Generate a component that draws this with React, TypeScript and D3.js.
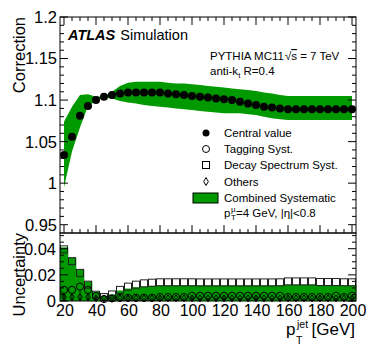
import React from "react";
import * as d3 from "d3";

// jet pT bin centres [GeV]
const ptBins = [20, 25, 30, 35, 40, 45, 50, 55, 60, 65, 70, 75, 80, 85, 90, 95, 100, 105, 110, 115,
  120, 125, 130, 135, 140, 145, 150, 155, 160, 165, 170, 175, 180, 185, 190, 195, 200];

const central = [1.034, 1.056, 1.081, 1.093, 1.100, 1.104, 1.106, 1.108, 1.109, 1.109, 1.109, 1.109,
  1.109, 1.108, 1.107, 1.106, 1.105, 1.104, 1.103, 1.102, 1.101, 1.100, 1.098, 1.096, 1.094, 1.092,
  1.091, 1.090, 1.089, 1.089, 1.089, 1.089, 1.089, 1.089, 1.089, 1.089, 1.089];

const bandUp = [1.074, 1.092, 1.106, 1.107, 1.104, 1.105, 1.110, 1.117, 1.121, 1.122, 1.122, 1.122,
  1.122, 1.121, 1.120, 1.120, 1.119, 1.118, 1.117, 1.116, 1.115, 1.114, 1.113, 1.112, 1.111, 1.109,
  1.108, 1.106, 1.105, 1.105, 1.105, 1.105, 1.105, 1.105, 1.105, 1.105, 1.105];

const bandDown = [0.995, 1.038, 1.067, 1.093, 1.099, 1.103, 1.102, 1.099, 1.097, 1.096, 1.094, 1.093,
  1.092, 1.091, 1.090, 1.089, 1.088, 1.087, 1.086, 1.085, 1.084, 1.084, 1.084, 1.083, 1.082, 1.080,
  1.078, 1.077, 1.076, 1.076, 1.076, 1.076, 1.076, 1.076, 1.076, 1.076, 1.076];

// uncertainties (lower pad)
const combinedUnc = [0.041, 0.033, 0.024, 0.015, 0.007, 0.004, 0.005, 0.008, 0.0095, 0.0105, 0.011,
  0.0115, 0.012, 0.012, 0.012, 0.012, 0.012, 0.012, 0.012, 0.012, 0.012, 0.012, 0.012, 0.012, 0.012,
  0.012, 0.012, 0.012, 0.0125, 0.0125, 0.0125, 0.0125, 0.012, 0.012, 0.012, 0.012, 0.012];

const decayUnc = [0.0395, 0.0305, 0.0215, 0.0125, 0.0048, 0.003, 0.005, 0.0085, 0.011, 0.0125, 0.0135,
  0.014, 0.0143, 0.0143, 0.0143, 0.0143, 0.0143, 0.0142, 0.0142, 0.0142, 0.0142, 0.0142, 0.0142,
  0.0142, 0.0142, 0.0142, 0.0142, 0.0143, 0.015, 0.015, 0.015, 0.015, 0.0145, 0.0145, 0.0145, 0.0143,
  0.0143];

const taggingUnc = [0.0085, 0.0085, 0.011, 0.0085, 0.0038, 0.0015, 0.002, 0.0025, 0.0025, 0.0025,
  0.0025, 0.0025, 0.003, 0.003, 0.003, 0.003, 0.004, 0.004, 0.004, 0.004, 0.004, 0.004, 0.004, 0.004,
  0.004, 0.004, 0.004, 0.004, 0.003, 0.003, 0.003, 0.003, 0.003, 0.003, 0.004, 0.003, 0.004];

const othersUnc = [0.003, 0.003, 0.003, 0.003, 0.002, 0.002, 0.002, 0.002, 0.002, 0.002, 0.002, 0.002,
  0.002, 0.002, 0.002, 0.002, 0.002, 0.002, 0.002, 0.002, 0.002, 0.002, 0.002, 0.002, 0.002, 0.002,
  0.002, 0.002, 0.002, 0.002, 0.002, 0.002, 0.002, 0.002, 0.002, 0.002, 0.002];

const xTickVals = [20, 40, 60, 80, 100, 120, 140, 160, 180, 200];
const yTopTicks = [0.95, 1, 1.05, 1.1, 1.15, 1.2];
const yTopLabels = ["0.95", "1", "1.05", "1.1", "1.15", "1.2"];
const yBotTicks = [0, 0.02, 0.04];
const yBotLabels = ["0", "0.02", "0.04"];

const GREEN = "#009900";
const FONT = "'Liberation Sans', Arial, Helvetica, sans-serif";

const App = () => {
  const binW = 5;
  const x = d3.scaleLinear().domain([17.5, 202.5]).range([60, 356]);
  const yTop = d3.scaleLinear().domain([0.94, 1.2]).range([233, 17]);
  const yBot = d3.scaleLinear().domain([0, 0.052]).range([301, 233]);
  const [x0, x1] = x.range();

  const band = d3
    .area<number>()
    .x((d, i) => x(ptBins[i]))
    .y0((d, i) => yTop(bandDown[i]))
    .y1((d) => yTop(d))(bandUp);

  const minorX = d3.range(20, 203, 5);
  const minorTop = d3.range(0.95, 1.2001, 0.01);
  const minorBot = d3.range(0, 0.0501, 0.005);

  const tick = (k: string, x1_: number, y1_: number, x2_: number, y2_: number) => (
    <line key={k} x1={x1_} y1={y1_} x2={x2_} y2={y2_} stroke="#000" strokeWidth={1} />
  );

  return (
    <svg width={374} height={359} style={{ position: "absolute", left: 0, top: 0, background: "#fff" }}
      fontFamily={FONT}>
      <rect width={374} height={359} fill="#fff" />

      {/* upper pad */}
      <path d={band || ""} fill={GREEN} />
      {central.map((v, i) => (
        <circle key={i} cx={x(ptBins[i])} cy={yTop(v)} r={4} fill="#000" />
      ))}
      <rect x={x0} y={17} width={x1 - x0} height={216} fill="none" stroke="#000" strokeWidth={1} />
      {minorX.map((v) => {
        const maj = v % 20 === 0;
        const l = maj ? 8 : 4;
        return (
          <g key={"tx" + v}>
            {tick("a", x(v), 17, x(v), 17 + l)}
            {tick("b", x(v), 233, x(v), 233 - l)}
          </g>
        );
      })}
      {minorTop.map((v, i) => {
        const maj = i % 5 === 0;
        const l = maj ? 8 : 4;
        const yy = yTop(v);
        return (
          <g key={"ty" + i}>
            {tick("a", x0, yy, x0 + l, yy)}
            {tick("b", x1, yy, x1 - l, yy)}
          </g>
        );
      })}
      {yTopTicks.map((v, i) => (
        <text key={"lt" + i} x={57} y={yTop(v)} dy="0.36em" textAnchor="end" fontSize={16.5}>
          {yTopLabels[i]}
        </text>
      ))}

      {/* labels */}
      <text x={68} y={40} fontSize={14.5}>
        <tspan fontWeight="bold" fontStyle="italic">ATLAS</tspan>
        <tspan dx={5}>Simulation</tspan>
      </text>
      <text x={210} y={60} fontSize={11.5}>
        PYTHIA MC11
        <tspan dx={1}>√</tspan>
        <tspan textDecoration="overline">s</tspan> = 7 TeV
      </text>
      <text x={210} y={75} fontSize={11.5}>
        anti-k<tspan fontSize={8} dy={3}>t</tspan>
        <tspan dy={-3}> R=0.4</tspan>
      </text>

      {/* legend */}
      <g fontSize={11.5}>
        <circle cx={206} cy={133} r={3.5} fill="#000" />
        <text x={224} y={137}>Central value</text>
        <circle cx={206} cy={149} r={3.5} fill="none" stroke="#000" />
        <text x={224} y={153}>Tagging Syst.</text>
        <rect x={202.5} y={161.5} width={7} height={7} fill="none" stroke="#000" />
        <text x={224} y={169}>Decay Spectrum Syst.</text>
        <path d="M206,177.5 L208.3,181.5 L206,185.5 L203.7,181.5 Z" fill="none" stroke="#000" />
        <text x={224} y={186}>Others</text>
        <rect x={193} y={193} width={25} height={10} fill={GREEN} stroke="#000" />
        <text x={224} y={202}>Combined Systematic</text>
        <text x={224} y={217}>p</text>
        <text x={231} y={212} fontSize={8}>μ</text>
        <text x={231} y={220} fontSize={8}>T</text>
        <text x={236} y={217}>=4 GeV, |η|&lt;0.8</text>
      </g>

      <text transform="translate(25,17) rotate(-90)" textAnchor="end" fontSize={16.5}>Correction</text>

      {/* lower pad */}
      {combinedUnc.map((v, i) => (
        <rect key={"b" + i} x={x(ptBins[i] - binW / 2)} y={yBot(v)}
          width={x(ptBins[i] + binW / 2) - x(ptBins[i] - binW / 2) + 0.3}
          height={yBot(0) - yBot(v)} fill={GREEN} />
      ))}
      {taggingUnc.map((v, i) => (
        <line key={"e" + i} x1={x(ptBins[i])} x2={x(ptBins[i])} y1={yBot(v) + 4} y2={301}
          stroke="#000" strokeWidth={0.8} />
      ))}
      {decayUnc.map((v, i) => (
        <rect key={"s" + i} x={x(ptBins[i]) - 3.5} y={yBot(v) - 3.5} width={7} height={7}
          fill="none" stroke="#222" strokeWidth={1} />
      ))}
      {taggingUnc.map((v, i) => (
        <circle key={"c" + i} cx={x(ptBins[i])} cy={yBot(v)} r={3.6} fill="none" stroke="#000" strokeWidth={1} />
      ))}
      {othersUnc.map((v, i) => {
        const cx = x(ptBins[i]);
        const cy = yBot(v);
        return (
          <path key={"d" + i} d={`M${cx},${cy - 3.5} L${cx + 2.3},${cy} L${cx},${cy + 3.5} L${cx - 2.3},${cy} Z`}
            fill="none" stroke="#000" strokeWidth={0.9} />
        );
      })}
      <rect x={x0} y={233} width={x1 - x0} height={68} fill="none" stroke="#000" strokeWidth={1} />
      {minorX.map((v) => {
        const l = v % 20 === 0 ? 6 : 3;
        return <g key={"bx" + v}>{tick("a", x(v), 301, x(v), 301 - l)}</g>;
      })}
      {minorBot.map((v, i) => {
        const l = i % 4 === 0 ? 8 : 4;
        const yy = yBot(v);
        return (
          <g key={"by" + i}>
            {tick("a", x0, yy, x0 + l, yy)}
            {tick("b", x1, yy, x1 - l, yy)}
          </g>
        );
      })}
      {yBotTicks.map((v, i) => (
        <text key={"lb" + i} x={56} y={yBot(v)} dy="0.36em" textAnchor="end" fontSize={16.5}>
          {yBotLabels[i]}
        </text>
      ))}
      {xTickVals.map((v) => (
        <text key={"lx" + v} x={x(v) + 1} y={316} textAnchor="middle" fontSize={16}>
          {v}
        </text>
      ))}
      <text transform="translate(25,233) rotate(-90)" textAnchor="end" fontSize={16.5}>Uncertainty</text>

      <text x={286} y={335} fontSize={17}>p</text>
      <text x={297} y={328} fontSize={10.5}>jet</text>
      <text x={296} y={344} fontSize={10.5}>T</text>
      <text x={355} y={335} textAnchor="end" fontSize={17}>[GeV]</text>
    </svg>
  );
};

export default App;
